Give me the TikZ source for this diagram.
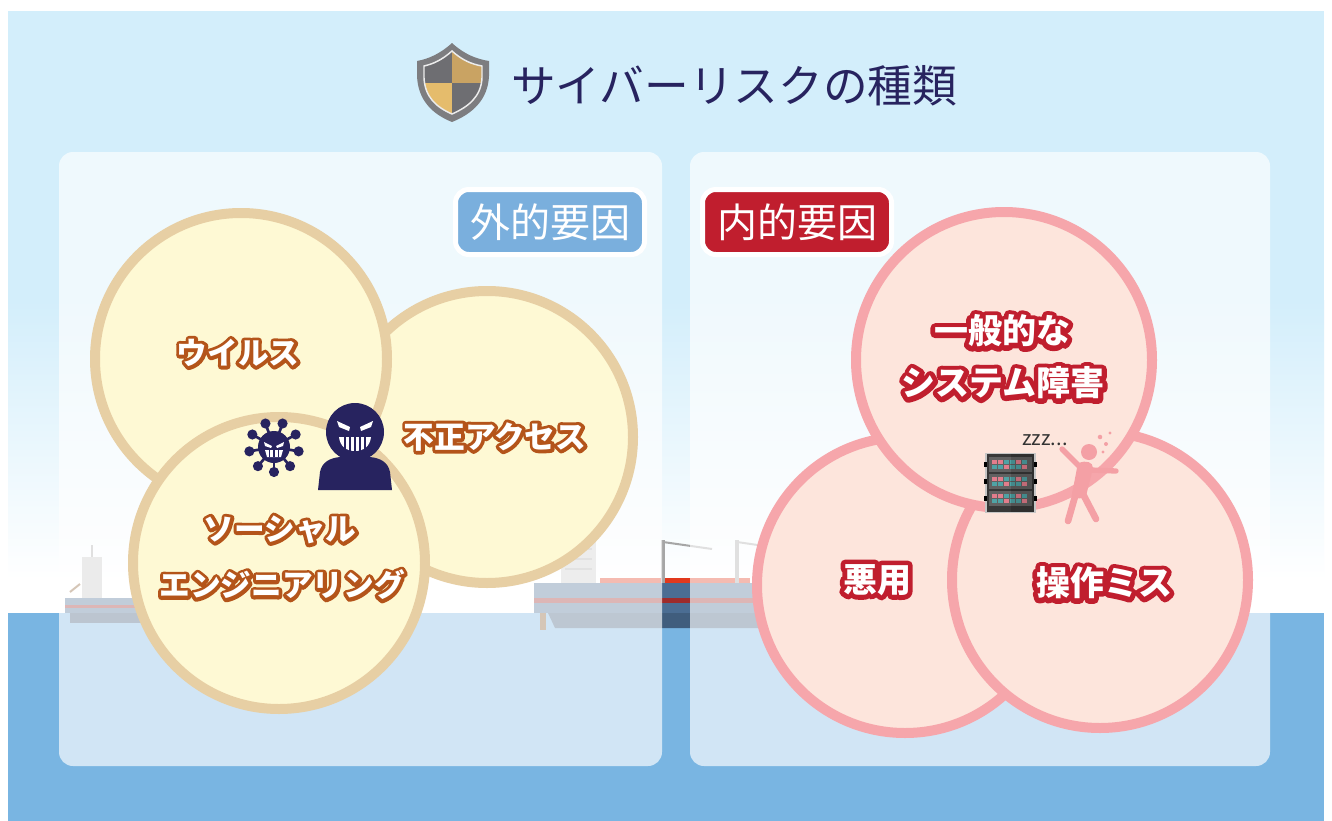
\documentclass[tikz,border=0pt]{standalone}
\usepackage{fontspec}
\newfontfamily\jp{Noto Sans CJK JP}
\newfontfamily\jpol[FakeBold=22,BoldFeatures={FakeBold=22}]{Noto Sans CJK JP}
\newfontfamily\jpolr[FakeBold=28,BoldFeatures={FakeBold=28}]{Noto Sans CJK JP}
\definecolor{sky}{HTML}{D3EEFB}
\definecolor{sea}{HTML}{79B5E2}
\definecolor{navy}{HTML}{27235F}
\definecolor{lblue}{HTML}{7AAFDD}
\definecolor{lred}{HTML}{C01E2E}
\definecolor{tanline}{HTML}{E7CFA4}
\definecolor{cream}{HTML}{FEF9D4}
\definecolor{obrown}{HTML}{B4541A}
\definecolor{pinkline}{HTML}{F6A6AB}
\definecolor{peach}{HTML}{FDE5DC}
\definecolor{hull}{HTML}{4B6D93}
\definecolor{hullred}{HTML}{9E2B2B}
\definecolor{shgray}{HTML}{7D7D80}
\definecolor{shdark}{HTML}{6E6E72}
\definecolor{shtan}{HTML}{C9A363}
\definecolor{shgold}{HTML}{E5BC6C}
\definecolor{fallpink}{HTML}{F4A0A5}
\definecolor{tilepink}{HTML}{E27D8C}
\definecolor{tileteal}{HTML}{4FA3A5}
\tikzset{
  outerc/.style={circle, draw=tanline, fill=cream, line width=7.5pt, minimum size=219pt, inner sep=0pt},
  innerc/.style={circle, draw=pinkline, fill=peach, line width=7.5pt, minimum size=222pt, inner sep=0pt},
  tagbox/.style={rectangle, rounded corners=10pt, draw=white, line width=3.75pt, minimum width=141.75pt, minimum height=48.75pt, inner sep=0pt, text=white, font=\jp\fontsize{30}{36}\selectfont},
  extrim/.style={text=obrown, font=\jpol\bfseries\fontsize{23}{28}\selectfont, inner sep=0pt, line join=round},
  extlabel/.style={text=white, font=\jp\bfseries\fontsize{23}{28}\selectfont, inner sep=0pt},
  intrim/.style={text=lred, font=\jpolr\bfseries\fontsize{25.5}{30}\selectfont, inner sep=0pt, line join=round},
  intlabel/.style={text=white, font=\jp\bfseries\fontsize{25.5}{30}\selectfont, inner sep=0pt},
  panel/.style={fill=white, opacity=0.66, rounded corners=10.5pt}
}
\begin{document}
\begin{tikzpicture}[x=0.75pt,y=-0.75pt]
\useasboundingbox (0,0) rectangle (1332,821);
\fill[white] (0,0) rectangle (1332,821);
% sky and sea
\fill[sky] (8,11) rectangle (1324,300);
\shade[top color=sky,bottom color=white] (8,300) rectangle (1324,580);
\fill[white] (8,580) rectangle (1324,613);
\fill[sea] (8,613) rectangle (1324,821);

% small ship on the left
\fill[hull] (65,598) -- (170,598) -- (170,613) -- (65,613) -- cycle;
\fill[hull!80!black] (70,613) rectangle (170,623);
\fill[hullred] (65,605) rectangle (170,608);
\fill[gray!45] (82,557) rectangle (102,598);
\fill[gray!70] (91,545) rectangle (93,557);
\draw[brown!70!black, line width=1.5pt] (70,592) -- (80,584);

% large ship in the middle
\fill[gray!40] (561,526) rectangle (596,583);
\foreach \yy in {538,548,558,568} \fill[gray!65] (565,\yy) rectangle (592,\yy+2);
\fill[hull] (534,583) rectangle (770,613);
\fill[hullred] (534,598) rectangle (770,603);
\fill[hull!85!black] (548,613) -- (770,613) -- (770,628) -- (555,628) -- cycle;
\fill[brown!70!black] (540,613) rectangle (546,630);
\fill[red!55!brown] (600,578) rectangle (750,583);
\fill[gray!70] (661,540) rectangle (665,583);
\draw[gray!70, line width=1.5pt] (663,542) -- (712,549);
\fill[gray!70] (735,540) rectangle (739,583);
\draw[gray!70, line width=1.5pt] (737,542) -- (785,549);

% translucent panels
\fill[panel] (59,152) rectangle (662,766);
\fill[panel] (690,152) rectangle (1270,766);

% title with shield
\fill[shgray] (452,43) .. controls (440,54) and (428,59) .. (417,61) -- (417,76)
  .. controls (418,100) and (432,114) .. (452,122) .. controls (472,114) and (488,100) .. (489,76)
  -- (489,61) .. controls (476,59) and (464,54) .. (452,43) -- cycle;
\begin{scope}
  \clip (452,51) .. controls (442,60) and (433,64) .. (424,66) -- (424,78)
    .. controls (425,97) and (436,107) .. (452,114) .. controls (468,107) and (481,97) .. (482,78)
    -- (482,66) .. controls (471,64) and (462,60) .. (452,51) -- cycle;
  \fill[shdark] (410,40) rectangle (452,83);
  \fill[shtan] (452,40) rectangle (495,83);
  \fill[shgold] (410,83) rectangle (452,125);
  \fill[shdark] (452,83) rectangle (495,125);
\end{scope}
\draw[white!85!gray, line width=1.1pt] (452,51) .. controls (442,60) and (433,64) .. (424,66) -- (424,78)
    .. controls (425,97) and (436,107) .. (452,114) .. controls (468,107) and (481,97) .. (482,78)
    -- (482,66) .. controls (471,64) and (462,60) .. (452,51) -- cycle;
\node[text=navy, font=\jp\fontsize{33.5}{40}\selectfont, anchor=west, inner sep=0pt] (title) at (511,86) {サイバーリスクの種類};

% external factors
\node[outerc] (access) at (487,437) {};
\node[outerc] (virus) at (241,359) {};
\node[outerc] (social) at (279,563) {};
\node[tagbox, fill=lblue] (ext) at (550,222) {外的要因};

\node[extrim] (tvirusrim) at (238,353) {ウイルス};
\node[extlabel] (tvirus) at (238,353) {ウイルス};
\node[extrim] (taccessrim) at (495,437) {不正アクセス};
\node[extlabel] (taccess) at (495,437) {不正アクセス};
\node[extrim] (tsocialrima) at (280,530) {ソーシャル};
\node[extlabel] (tsociala) at (280,530) {ソーシャル};
\node[extrim] (tsocialrimb) at (282,585) {エンジニアリング};
\node[extlabel] (tsocialb) at (282,585) {エンジニアリング};

% virus icon
\begin{scope}[shift={(274,447)}]
  \foreach \a in {10,50,90,130,170,210,250,290,330} {
    \draw[navy, line width=2pt] (0,0) -- (\a:24);
    \fill[navy] (\a:25) circle[radius=3.8pt];
  }
  \fill[navy] (0,0) circle[radius=12pt];
  \fill[white] (-10,-5) -- (-2,-1) -- (-3,1) -- (-9,-1) -- cycle;
  \fill[white] (10,-5) -- (2,-1) -- (3,1) -- (9,-1) -- cycle;
  \fill[white] (-9,3) -- (9,3) -- (7,10) -- (-7,10) -- cycle;
  \foreach \xx in {-4.5,0,4.5} \draw[navy, line width=0.8pt] (\xx,3) -- (\xx,10);
\end{scope}

% intruder icon
\begin{scope}[shift={(355,432)}]
  \fill[navy] (-37,58) -- (-35,40) .. controls (-33,30) and (-25,26) .. (-15,25) -- (15,25)
    .. controls (25,26) and (33,30) .. (35,40) -- (37,58) -- cycle;
  \fill[navy] (0,0) circle[radius=21.75pt];
  \fill[white] (-18,-11) -- (-5,-5) -- (-6,-1) -- (-16,-5) -- cycle;
  \fill[white] (18,-11) -- (5,-5) -- (6,-1) -- (16,-5) -- cycle;
  \fill[white] (-16,5) -- (16,5) .. controls (15,14) and (9,19) .. (0,19) .. controls (-9,19) and (-15,14) .. (-16,5) -- cycle;
  \foreach \xx in {-10,-5,0,5,10} \draw[navy, line width=1.1pt] (\xx,5) -- (\xx,20);
\end{scope}

% internal factors
\node[innerc] (abuse) at (905,585) {};
\node[innerc] (opmiss) at (1100,580) {};
\node[innerc] (general) at (1004,360) {};
\node[tagbox, fill=lred] (int) at (797,222) {内的要因};

\node[intrim] (tgenrima) at (1002,331) {一般的な};
\node[intlabel] (tgena) at (1002,331) {一般的な};
\node[intrim] (tgenrimb) at (1003,383) {システム障害};
\node[intlabel] (tgenb) at (1003,383) {システム障害};
\node[intrim] (tabuserim) at (877,580) {悪用};
\node[intlabel] (tabuse) at (877,580) {悪用};
\node[intrim] (tmissrim) at (1104,583) {操作ミス};
\node[intlabel] (tmiss) at (1104,583) {操作ミス};

% stalled server rack
\begin{scope}[shift={(985,453)}]
  \fill[gray!45] (0,0) rectangle (51,60);
  \fill[black!78] (2,1) rectangle (49,59);
  \foreach \uy in {4,21,38} {
    \fill[black!62] (4,\uy) rectangle (47,\uy+15);
    \foreach \tx/\ca/\cb in {7/tilepink/tileteal, 13/tilepink/tileteal, 19/tileteal/tilepink, 25/tileteal/tileteal, 31/tilepink/tileteal, 37/tileteal/tilepink} {
      \fill[\ca] (\tx,\uy+3) rectangle (\tx+5,\uy+7);
      \fill[\cb] (\tx,\uy+8) rectangle (\tx+5,\uy+12);
    }
    \fill[black] (-1,\uy+5) rectangle (2,\uy+10);
    \fill[black] (49,\uy+5) rectangle (52,\uy+10);
  }
  \fill[black, opacity=0.15] (26,1) rectangle (49,59);
\end{scope}
\node[text=black!80, font=\jp\fontsize{15}{18}\selectfont, inner sep=0pt] (zzz) at (1045,440) {zzz...};

% person tripping over
\begin{scope}[fallpink, line cap=round, line join=round]
  \fill (1089,452) circle[radius=6pt];
  \fill (1079,463) .. controls (1086,460) and (1093,462) .. (1093,468)
    -- (1086,496) .. controls (1083,500) and (1074,499) .. (1072,494)
    -- (1077,468) .. controls (1077,465) and (1078,464) .. (1079,463) -- cycle;
  \draw[line width=4pt] (1080,467) -- (1062,449);
  \draw[line width=4pt] (1090,470) -- (1116,471);
  \draw[line width=5pt] (1076,493) -- (1068,521);
  \draw[line width=5pt] (1083,494) -- (1096,519);
  \fill (1100,437) circle[radius=1.7pt];
  \fill (1106,444) circle[radius=1.5pt];
  \fill (1103,452) circle[radius=1.3pt];
  \fill (1110,433) circle[radius=1.3pt];
\end{scope}
\end{tikzpicture}
\end{document}
